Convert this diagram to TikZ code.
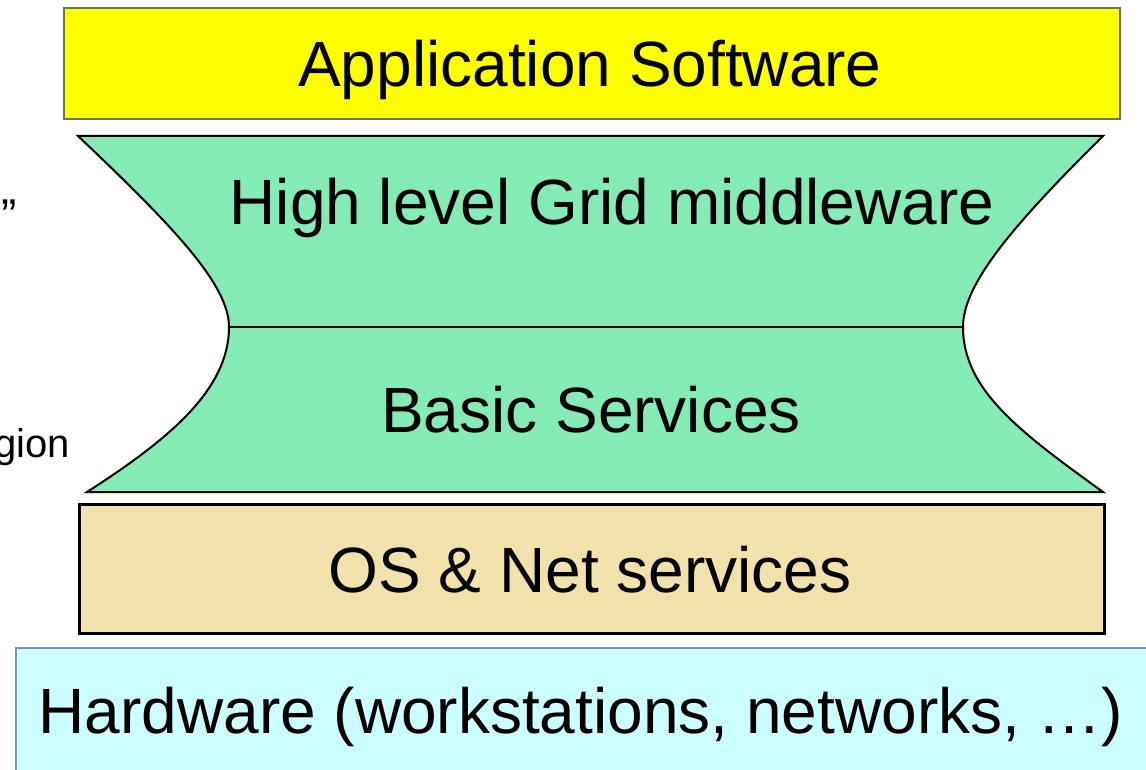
\documentclass[tikz,border=0pt]{standalone}
\usepackage{fontspec}
\setmainfont{Liberation Sans}
\definecolor{appyellow}{RGB}{255,255,0}
\definecolor{appedge}{RGB}{110,110,110}
\definecolor{midgreen}{RGB}{133,235,182}
\definecolor{ostan}{RGB}{240,226,170}
\definecolor{hwcyan}{RGB}{204,255,255}
\definecolor{hwedge}{RGB}{120,144,208}
\tikzset{
  layertext/.style={font=\fontsize{64}{72}\selectfont, anchor=base, inner sep=0pt},
  sidetext/.style={font=\fontsize{40}{46}\selectfont, anchor=base east, inner sep=0pt},
  layerbox/.style={draw, line width=2pt, inner sep=0pt, anchor=north west}
}
\begin{document}
\begin{tikzpicture}[x=1pt,y=-1pt]
\useasboundingbox (0,0) rectangle (1146,770);
\clip (0,0) rectangle (1146,770);

% layer boxes
\node[layerbox, draw=appedge, fill=appyellow, minimum width=1056pt, minimum height=111pt] (app) at (63,7) {};
\node[layerbox, draw=black, fill=ostan, line width=2.5pt, minimum width=1025pt, minimum height=129pt] (os) at (78,503) {};
\node[layerbox, draw=hwedge, fill=hwcyan, minimum width=1160pt, minimum height=140pt] (hw) at (15,647) {};

% middleware hourglass
\coordinate (tl) at (78,136);
\coordinate (tr) at (1103,136);
\coordinate (bl) at (87,492);
\coordinate (br) at (1103,492);
\coordinate (wl) at (229,327);
\coordinate (wr) at (963,327);
\draw[fill=midgreen, line width=2pt, line join=miter]
  (tl) -- (tr)
  .. controls (1010,228) and (963,285) .. (wr)
  .. controls (963,390) and (1020,432) .. (br)
  -- (bl)
  .. controls (168,440) and (229,390) .. (wl)
  .. controls (229,285) and (175,228) .. (tl) -- cycle;
\draw[line width=1.6pt] (wl) -- (wr);

% labels
\node[layertext] (tapp) at (590,87) {Application Software};
\node[layertext] (thigh) at (612,225) {High level Grid middleware};
\node[layertext] (tbasic) at (591,432) {Basic Services};
\node[layertext] (tos) at (590,592) {OS \& Net services};
\node[layertext] (thw) at (581,733) {Hardware (workstations, networks, …)};

% side notes running off the left edge
\node[sidetext, font=\fontsize{46}{52}\selectfont] (q) at (17,232) {”};
\node[sidetext] (rg) at (70,457) {gion};
\end{tikzpicture}
\end{document}
